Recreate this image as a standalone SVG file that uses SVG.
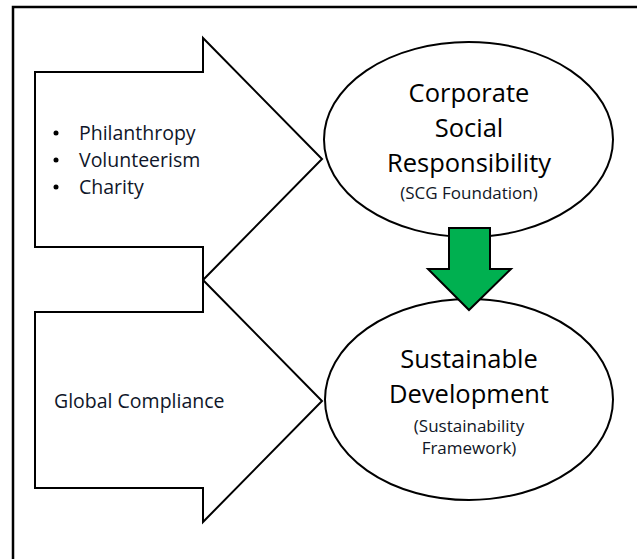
<svg xmlns="http://www.w3.org/2000/svg" width="637" height="559" viewBox="0 0 637 559">
  <style>
    .shape { fill: #ffffff; stroke: #000000; stroke-width: 2; stroke-linejoin: miter; }
    .frame { fill: none; stroke: #000000; stroke-width: 2.5; }
    .big { font-family: "Open Sans", "Liberation Sans", sans-serif; font-size: 25.5px; fill: #000000; text-anchor: middle; }
    .small { font-family: "Open Sans", "Liberation Sans", sans-serif; font-size: 17px; fill: #101626; text-anchor: middle; }
    .list { font-family: "Open Sans", "Liberation Sans", sans-serif; font-size: 19.5px; fill: #0f1629; }
  </style>

  <!-- page frame (left and top edges) -->
  <path class="frame" d="M13,559 V7 H637"/>

  <g id="connectors">
    <!-- block arrow: CSR activities -->
    <g id="arrow-csr">
      <polygon class="shape" points="35,72 203,72 203,38 322,159 203,280 203,247 35,247"/>
      <circle cx="56" cy="133" r="2.5" fill="#000"/>
      <circle cx="56" cy="160" r="2.5" fill="#000"/>
      <circle cx="56" cy="187" r="2.5" fill="#000"/>
      <text class="list" x="79" y="140">Philanthropy</text>
      <text class="list" x="79" y="167">Volunteerism</text>
      <text class="list" x="79" y="194">Charity</text>
    </g>
    <!-- block arrow: compliance -->
    <g id="arrow-compliance">
      <polygon class="shape" points="35,312 203,312 203,280 322,401 203,522 203,488 35,488"/>
      <text class="list" x="54" y="408">Global Compliance</text>
    </g>
  </g>

  <g id="node-csr">
    <ellipse class="shape" cx="468.5" cy="139.5" rx="144.5" ry="97.5"/>
    <text class="big" x="469" y="102">Corporate</text>
    <text class="big" x="469" y="137">Social</text>
    <text class="big" x="469" y="172">Responsibility</text>
    <text class="small" x="469" y="199">(SCG Foundation)</text>
  </g>

  <g id="node-sd">
    <ellipse class="shape" cx="469" cy="399.5" rx="144" ry="100.5"/>
    <text class="big" x="469" y="368">Sustainable</text>
    <text class="big" x="469" y="403">Development</text>
    <text class="small" x="469" y="432">(Sustainability</text>
    <text class="small" x="469" y="454">Framework)</text>
  </g>

  <!-- green arrow between the two ellipses, drawn over both outlines -->
  <g id="connector-down">
    <polygon points="449,228 490,228 490,269 511,269 469,310 428,269 449,269" fill="#00B050" stroke="#000" stroke-width="2"/>
  </g>
</svg>
